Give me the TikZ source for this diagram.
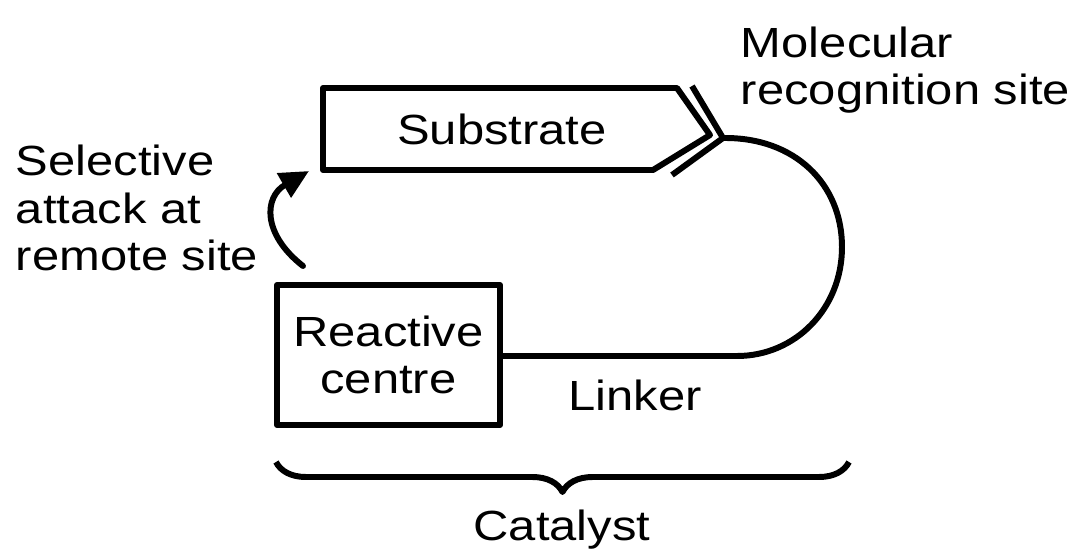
\documentclass[tikz,border=0pt]{standalone}
\usepackage{fontspec}
\setmainfont{Liberation Sans}[FakeStretch=1.16]
\usetikzlibrary{arrows.meta, decorations.pathreplacing, positioning, calc}

\begin{document}
\begin{tikzpicture}[line width=1.7pt, line join=round,
    every node/.style={font=\fontsize{12}{13.4}\selectfont},
    label text/.style={align=left, inner sep=0pt},
    box/.style={draw, minimum width=2.23cm, minimum height=1.40cm, align=center, inner sep=0pt}]
    \useasboundingbox (0,0) rectangle (10.73,5.59);

    % Substrate (pentagon with pointed end)
    \coordinate (subTL) at (3.23,4.71);
    \coordinate (subTR) at (6.77,4.71);
    \coordinate (subTip) at (7.10,4.24);
    \coordinate (subBR) at (6.53,3.89);
    \coordinate (subBL) at (3.23,3.89);
    \draw (subTR) -- (subTL) -- (subBL) -- (subBR) -- (subTip) -- cycle;
    \node (substrate) at (5.02,4.30) {Substrate};

    % Molecular recognition site (outer chevron)
    \coordinate (recTop) at (6.92,4.73);
    \coordinate (recTip) at (7.23,4.21);
    \coordinate (recBot) at (6.72,3.84);
    \draw[line join=miter] (recTop) -- (recTip) -- (recBot);
    \node[label text, anchor=west] (recognition) at (7.38,4.89) {Molecular\\recognition site};

    % Reactive centre
    \node[box] (centre) at (3.885,2.04) {Reactive\\centre};

    % Linker loop back to the recognition site
    \coordinate (loopEnd) at (7.37,2.03);
    \draw (recTip) .. controls (7.95,4.22) and (8.42,3.75) .. (8.42,3.12)
        .. controls (8.42,2.50) and (7.95,2.03) .. (loopEnd) -- (centre.east |- loopEnd);
    \node (linker) at (6.35,1.64) {Linker};

    % Selective attack arrow
    \coordinate (attackFrom) at (3.03,2.93);
    \coordinate (attackTo) at (3.09,3.88);
    \draw[-{Triangle[length=0.29cm, width=0.27cm]}, line cap=round]
        (attackFrom) .. controls (2.62,3.25) and (2.64,3.62) .. (attackTo);
    \node[label text, anchor=west] (attack) at (0.13,3.51) {Selective\\attack at\\remote site};

    % Catalyst brace
    \coordinate (braceL) at (2.76,0.97);
    \coordinate (braceR) at (8.49,0.97);
    \draw[decorate, decoration={brace, mirror, amplitude=0.30cm}] (braceL) -- (braceR);
    \node (catalyst) at (5.62,0.29) {Catalyst};
\end{tikzpicture}
\end{document}
